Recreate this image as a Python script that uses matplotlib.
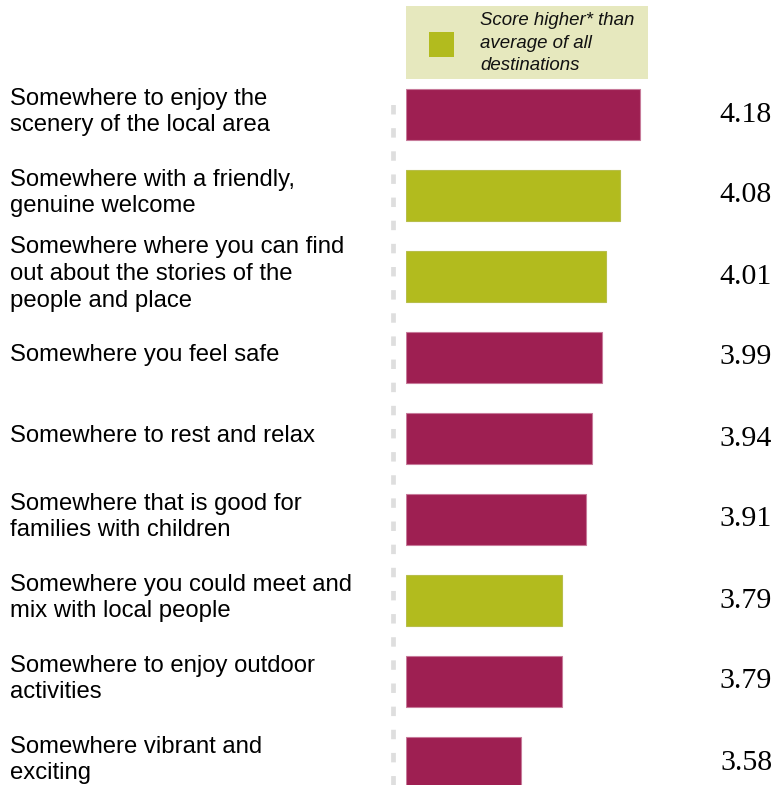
import matplotlib
matplotlib.use("Agg")
import matplotlib.pyplot as plt
import matplotlib.transforms as mtrans
from matplotlib.patches import Rectangle

# data
labels = [
    "Somewhere to enjoy the\nscenery of the local area",
    "Somewhere with a friendly,\ngenuine welcome",
    "Somewhere where you can find\nout about the stories of the\npeople and place",
    "Somewhere you feel safe",
    "Somewhere to rest and relax",
    "Somewhere that is good for\nfamilies with children",
    "Somewhere you could meet and\nmix with local people",
    "Somewhere to enjoy outdoor\nactivities",
    "Somewhere vibrant and\nexciting",
]
scores = [4.18, 4.08, 4.01, 3.99, 3.94, 3.91, 3.79, 3.79, 3.58]
higher = [False, True, True, False, False, False, True, False, False]
legend_text = "Score higher* than\naverage of all\ndestinations"

MAGENTA = "#9E1F52"
GREEN = "#B2BB1E"
W, H = 776, 785

fig = plt.figure(figsize=(W / 100, H / 100), dpi=100)
fig.patch.set_facecolor("white")

# axes for bars: left edge at 406 px, value 3.0 at left, 198 px per unit
ax = fig.add_axes([406 / W, 0, (W - 406) / W, 1])
ax.set_xlim(3.0, 3.0 + (W - 406) / 198)
row = 81.0
top_c = 114.5
ax.set_ylim((H - top_c) / row, -top_c / row)
ax.axis("off")

ypos = list(range(len(scores)))
cols = [GREEN if h else MAGENTA for h in higher]
edges = ["#B7BE4A" if h else "#C77A9A" for h in higher]
ax.barh(ypos, [s - 3.0 for s in scores], left=3.0, height=0.63,
        color=cols, edgecolor=edges, linewidth=0.8)

tr = mtrans.blended_transform_factory(fig.transFigure, ax.transData)
for y, lab, s in zip(ypos, labels, scores):
    fig.text(10 / W, y - 0.03, lab, transform=tr, ha="left", va="center",
             fontsize=17.2, family="Liberation Sans", linespacing=1.27)
    fig.text(746 / W, y, f"{s:.2f}", transform=tr, ha="center", va="center",
             fontsize=21.5, family="Liberation Serif")

# dashed guide line
fig.add_artist(plt.Line2D([393 / W, 393 / W], [0, 1 - 95 / H], transform=fig.transFigure,
                          color="#DEDEDE", linewidth=3.4, dashes=(2.0, 2.9)))

# legend box
fig.add_artist(Rectangle((406 / W, 1 - 79 / H), (648 - 406) / W, 73 / H,
                         transform=fig.transFigure, facecolor="#E6E8BE", edgecolor="none"))
fig.add_artist(Rectangle((429 / W, 1 - 57 / H), 25 / W, 25 / H,
                         transform=fig.transFigure, facecolor=GREEN, edgecolor="none"))
fig.text(480 / W, 1 - 43 / H, legend_text, ha="left", va="center", fontsize=13.4,
         family="Liberation Sans", style="italic", linespacing=1.4, color="#111111")

fig.savefig("out.png", dpi=100)
